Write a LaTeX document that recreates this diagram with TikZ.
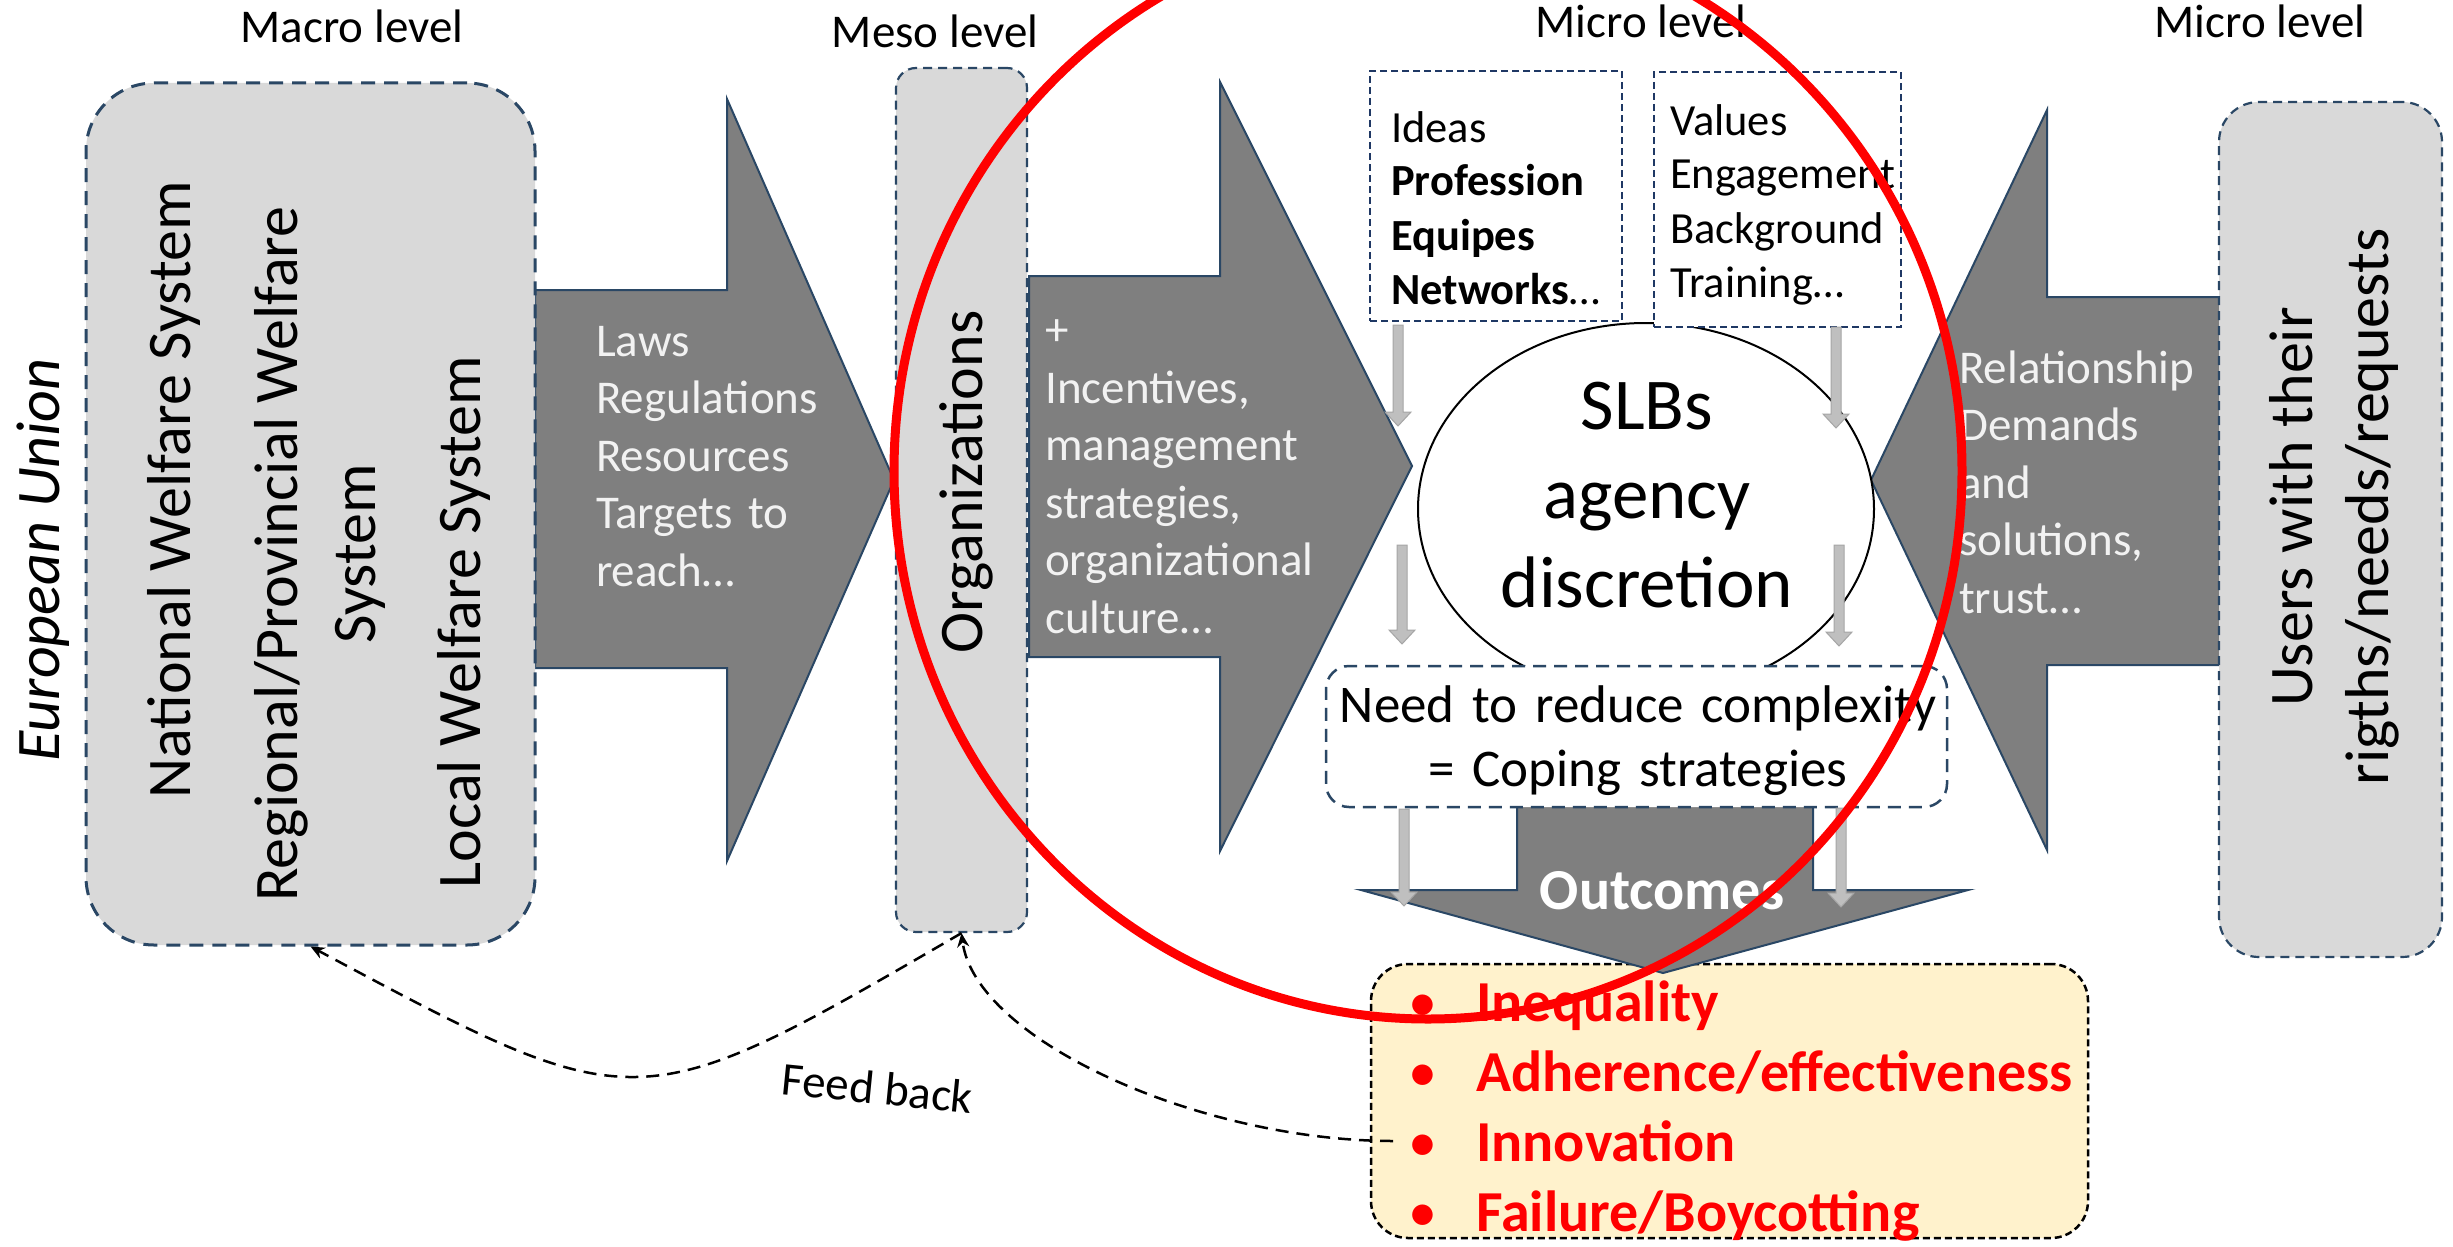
\documentclass[tikz,border=0pt]{standalone}
\usepackage{fontspec}
\setmainfont{Carlito}
\usetikzlibrary{arrows.meta,shapes.geometric}
\definecolor{navyline}{HTML}{2A4765}
\definecolor{boxgray}{HTML}{D9D9D9}
\definecolor{arrowgray}{HTML}{7F7F7F}
\definecolor{idealine}{HTML}{1F3864}
\definecolor{outfill}{HTML}{FFF2CC}
\definecolor{smallgray}{HTML}{BFBFBF}
\definecolor{smallgrayline}{HTML}{A6A6A6}
\definecolor{arrowtext}{HTML}{F2F2F2}
\newcommand{\slbdown}[3]{\draw[smallarrow] ({#1-5},#2) -- ({#1+5},#2) -- ({#1+5},{#3-14}) -- ({#1+13},{#3-14}) -- (#1,#3) -- ({#1-13},{#3-14}) -- ({#1-5},{#3-14}) -- cycle;}
\newcommand{\slbbullet}{\makebox[67.5pt][l]{\mdseries •}}
\begin{document}
\begin{tikzpicture}[x=1pt,y=-1pt,
  bigarrow/.style={fill=arrowgray,draw=navyline,line width=2pt,line join=miter},
  smallarrow/.style={fill=smallgray,draw=smallgrayline,line width=1pt},
  greybox/.style={fill=boxgray,draw=navyline,line width=2.2pt,dash pattern=on 9pt off 6pt,inner sep=0},
  microbox/.style={fill=white,draw=idealine,line width=2pt,dash pattern=on 7pt off 4pt,inner sep=0},
  lvltxt/.style={anchor=base,inner sep=0,font=\fontsize{47}{57}\selectfont},
  rottxt/.style={rotate=90,anchor=base,inner sep=0,font=\fontsize{62}{76}\selectfont},
  arrtxt/.style={anchor=base west,inner sep=0,align=left,text=arrowtext,font=\fontsize{47}{57.5}\selectfont},
  microtxt/.style={anchor=base west,inner sep=0,text width=235pt,align=left,font=\fontsize{44.5}{54}\selectfont},
  fbline/.style={draw=black,line width=2.5pt,dash pattern=on 13pt off 8pt},
  fbtip/.style={-{Stealth[length=14pt,width=12pt]}}
]
\useasboundingbox (0,0) rectangle (2453,1247);
\fill[white] (0,0) rectangle (2453,1247);

% big block arrows
\draw[bigarrow] (535,290) -- (727,290) -- (727,99) -- (894,480) -- (727,861) -- (727,668) -- (535,668) -- cycle;
\draw[bigarrow] (1029,276) -- (1220,276) -- (1220,82) -- (1412,466) -- (1220,851) -- (1220,657) -- (1029,657) -- cycle;
\draw[bigarrow] (2221,297) -- (2047,297) -- (2047,110) -- (1871,480) -- (2047,850) -- (2047,665) -- (2221,665) -- cycle;

% grey level boxes
\node[greybox,rounded corners=68pt,line width=3pt,dash pattern=on 14pt off 9pt,minimum width=449pt,minimum height=862pt] (macro) at (310.5,514) {};
\node[greybox,rounded corners=20pt,minimum width=131pt,minimum height=864pt] (meso) at (961.5,500) {};
\node[greybox,rounded corners=40pt,minimum width=223pt,minimum height=855pt] (users) at (2330.5,529.5) {};

% micro level
\node[draw=black,fill=white,line width=2pt,ellipse,inner sep=0,minimum width=456pt,minimum height=372pt] (slb) at (1646,509) {};
\node[microbox,minimum width=252pt,minimum height=250pt] (ideasbox) at (1496,196) {};
\node[microbox,minimum width=247pt,minimum height=255pt] (valuesbox) at (1777.5,199.5) {};

% outcomes
\node[draw=black,fill=outfill,line width=2.5pt,dash pattern=on 7pt off 4pt,rounded corners=37pt,inner sep=0,minimum width=717pt,minimum height=274pt] (outbox) at (1729.5,1101) {};
\draw[bigarrow] (1517,800) -- (1813,800) -- (1813,890) -- (1968,890) -- (1663,973) -- (1361,890) -- (1517,890) -- cycle;
\node[draw=navyline,fill=white,line width=2.5pt,dash pattern=on 13pt off 8pt,rounded corners=23pt,inner sep=0,minimum width=621pt,minimum height=141pt] (needbox) at (1636.5,736.5) {};

% small grey arrows
\slbdown{1398}{325}{426}
\slbdown{1836}{327}{428}
\slbdown{1402}{545}{644}
\slbdown{1839}{545}{646}
\slbdown{1404}{809}{906}
\slbdown{1841}{808}{907}

% level titles
\node[lvltxt] (tmacro) at (352,43) {Macro level};
\node[lvltxt] (tmeso) at (935,48) {Meso level};
\node[lvltxt] (tmicroa) at (1641,38) {Micro level};
\node[lvltxt] (tmicrob) at (2260,38) {Micro level};

% rotated texts
\node[rottxt,font=\fontsize{62}{76}\selectfont\itshape] (eu) at (59,560) {European Union};
\node[rottxt] (national) at (190,490) {National Welfare System};
\node[rottxt] (regional) at (297,554) {Regional/Provincial Welfare};
\node[rottxt] (regionalb) at (375,554) {System};
\node[rottxt] (local) at (480,622) {Local Welfare System};
\node[rottxt] (orgs) at (982,482) {Organizations};
\node[rottxt] (usersa) at (2312,507) {Users with their};
\node[rottxt] (usersb) at (2388,507) {rigths/needs/requests};

% arrow texts
\node[arrtxt,text width=240pt] (lawstxt) at (596,356) {Laws\\Regulations\\Resources\\Targets to\\reach…};
\node[arrtxt,text width=275pt] (inctxt) at (1045,345.5) {+\\Incentives,\\management\\strategies,\\organizational\\culture…};
\node[arrtxt,text width=250pt] (reltxt) at (1959,383) {Relationship\\Demands\\and\\solutions,\\trust…};

% micro texts
\node[microtxt] (ideastxt) at (1391,142) {Ideas\\\textbf{Profession}\\\textbf{Equipes}\\\textbf{Networks}…};
\node[microtxt] (valuestxt) at (1670,135) {Values\\Engagement\\Background\\Training…};
\node[anchor=base,inner sep=0,text width=360pt,align=center,font=\fontsize{73}{89}\selectfont] (slbtxt) at (1647,429) {SLBs\\agency\\discretion};
\node[anchor=base,inner sep=0,text width=600pt,align=center,font=\fontsize{53}{64}\selectfont] (needtxt) at (1638,722) {Need to reduce complexity\\= Coping strategies};
\node[anchor=base,inner sep=0,text=white,font=\fontsize{58}{70}\selectfont\bfseries] (outtxt) at (1662,909) {Outcomes};
\node[anchor=base west,inner sep=0,text width=670pt,align=left,text=red,font=\fontsize{58}{70}\selectfont\bfseries] (outlist) at (1408.5,1021) {\slbbullet Inequality\\\slbbullet Adherence/effectiveness\\\slbbullet Innovation\\\slbbullet Failure/Boycotting};

% feedback connectors
\coordinate (fbstart) at (1393,1141);
\draw[fbline,fbtip] (fbstart) .. controls (1200,1141) and (975,1040) .. (meso.south);
\draw[fbline,fbtip] (meso.south) .. controls (636,1122) and (639,1122) .. (macro.south);
\node[anchor=base,rotate=-5.7,inner sep=0,font=\fontsize{47}{57}\selectfont] (fbtxt) at (876,1104) {Feed back};

% red focus circle
\node[ellipse,draw=red,line width=9pt,inner sep=0,minimum width=1068pt,minimum height=1096pt] (focus) at (1428,471) {};
\end{tikzpicture}
\end{document}
